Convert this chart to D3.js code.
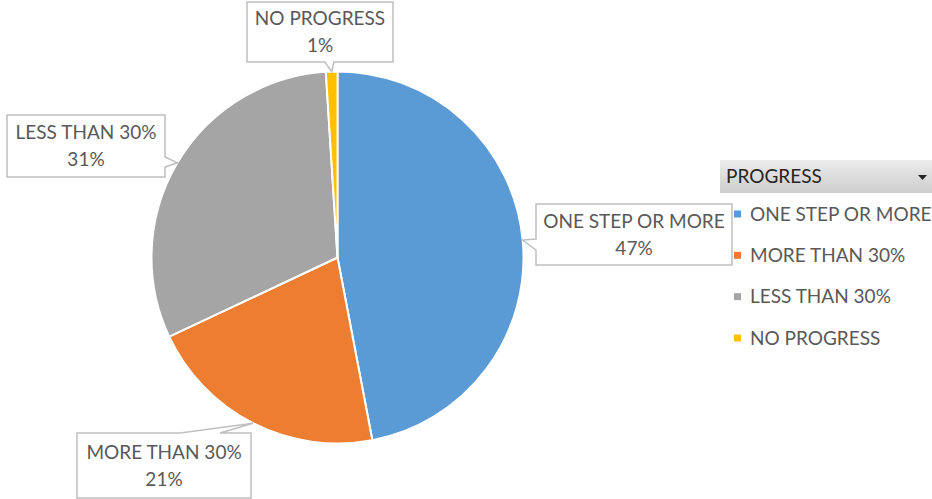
<!DOCTYPE html>
<html>
<head>
<meta charset="utf-8">
<script src="https://cdn.jsdelivr.net/npm/d3@7"></script>
<style>
  html, body { margin: 0; padding: 0; background: #fff; }
  svg { display: block; }
  text { font-family: Lato, "Open Sans", sans-serif; }
</style>
</head>
<body>
<svg id="chart" width="932" height="499"></svg>
<script>
// Progress categories and their share of the total (percent)
const categories = ["ONE STEP OR MORE", "MORE THAN 30%", "LESS THAN 30%", "NO PROGRESS"];
const shares = [47, 21, 31, 1];
const sliceColors = ["#5B9BD5", "#ED7D31", "#A5A5A5", "#FFC000"];
const legendTitle = "PROGRESS";

// Callout box layout for each slice's data label
const calloutBoxes = [
  { x0: 536, y0: 204, x1: 732, y1: 265, side: "left",   b0: 239, b1: 250 },
  { x0: 77,  y0: 433, x1: 251, y1: 498, side: "top",    b0: 180, b1: 220 },
  { x0: 7,   y0: 115, x1: 165, y1: 177, side: "right",  b0: 157, b1: 167 },
  { x0: 247, y0: 2,   x1: 393, y1: 62,  side: "bottom", b0: 325, b1: 334 }
];

const W = 932, H = 499;
const cx = 337.5, cy = 257.5, R = 186;
const textColor = "#595959";
const fontSize = 19;

const svg = d3.select("#chart");

const data = categories.map((c, i) => ({ category: c, value: shares[i], color: sliceColors[i] }));

const pie = d3.pie().value(d => d.value).sort(null);
const arcs = pie(data);

const arc = d3.arc().innerRadius(0).outerRadius(R);
const rimArc = d3.arc().innerRadius(R).outerRadius(R);

const g = svg.append("g").attr("transform", `translate(${cx},${cy})`);

g.selectAll("path.slice")
  .data(arcs)
  .join("path")
  .attr("class", "slice")
  .attr("d", arc)
  .attr("fill", d => d.data.color)
  .attr("stroke", "#fff")
  .attr("stroke-width", 2)
  .attr("stroke-linejoin", "round");

// Callout path: rectangle with a pointer wedge on one side that reaches the tip
function calloutPath(b, tip) {
  const p = [];
  p.push([b.x0, b.y0]);
  if (b.side === "top") { p.push([b.b0, b.y0], tip, [b.b1, b.y0]); }
  p.push([b.x1, b.y0]);
  if (b.side === "right") { p.push([b.x1, b.b0], tip, [b.x1, b.b1]); }
  p.push([b.x1, b.y1]);
  if (b.side === "bottom") { p.push([b.b1, b.y1], tip, [b.b0, b.y1]); }
  p.push([b.x0, b.y1]);
  if (b.side === "left") { p.push([b.x0, b.b1], tip, [b.x0, b.b0]); }
  return "M" + p.map(q => q.join(",")).join("L") + "Z";
}

const labels = svg.append("g").attr("class", "labels");
arcs.forEach((d, i) => {
  const b = calloutBoxes[i];
  const c = rimArc.centroid(d);
  const tip = [cx + c[0], cy + c[1]];
  labels.append("path")
    .attr("d", calloutPath(b, tip))
    .attr("fill", "#fff")
    .attr("stroke", "#BFBFBF")
    .attr("stroke-width", 1.5)
    .attr("stroke-linejoin", "miter");
  const mx = (b.x0 + b.x1) / 2;
  const my = (b.y0 + b.y1) / 2;
  const t = labels.append("text")
    .attr("x", mx)
    .attr("text-anchor", "middle")
    .attr("fill", textColor)
    .attr("font-size", fontSize);
  t.append("tspan").attr("x", mx).attr("y", my - 13.5).attr("dy", "0.35em").text(d.data.category);
  t.append("tspan").attr("x", mx).attr("y", my + 13.5).attr("dy", "0.35em").text(d.data.value + "%");
});

// Legend with header bar
const defs = svg.append("defs");
const grad = defs.append("linearGradient").attr("id", "hdr").attr("x1", 0).attr("y1", 0).attr("x2", 0).attr("y2", 1);
grad.append("stop").attr("offset", "0%").attr("stop-color", "#ececec");
grad.append("stop").attr("offset", "100%").attr("stop-color", "#cdcdcd");

const legend = svg.append("g").attr("class", "legend");
legend.append("rect")
  .attr("x", 720).attr("y", 160).attr("width", 212).attr("height", 33)
  .attr("fill", "url(#hdr)");
legend.append("text")
  .attr("x", 726).attr("y", 176.5).attr("dy", "0.35em")
  .attr("fill", "#262626").attr("font-size", fontSize)
  .text(legendTitle);
legend.append("path")
  .attr("d", "M918,175L927,175L922.5,180Z")
  .attr("fill", "#262626");

const legendY = d3.scalePoint().domain(categories).range([214, 338]);
const items = legend.selectAll("g.item")
  .data(data)
  .join("g")
  .attr("class", "item")
  .attr("transform", d => `translate(0,${legendY(d.category)})`);
items.append("rect")
  .attr("x", 734).attr("y", -3.5).attr("width", 7).attr("height", 7)
  .attr("fill", d => d.color);
items.append("text")
  .attr("x", 750).attr("dy", "0.35em")
  .attr("fill", textColor).attr("font-size", fontSize)
  .text(d => d.category);
</script>
</body>
</html>
